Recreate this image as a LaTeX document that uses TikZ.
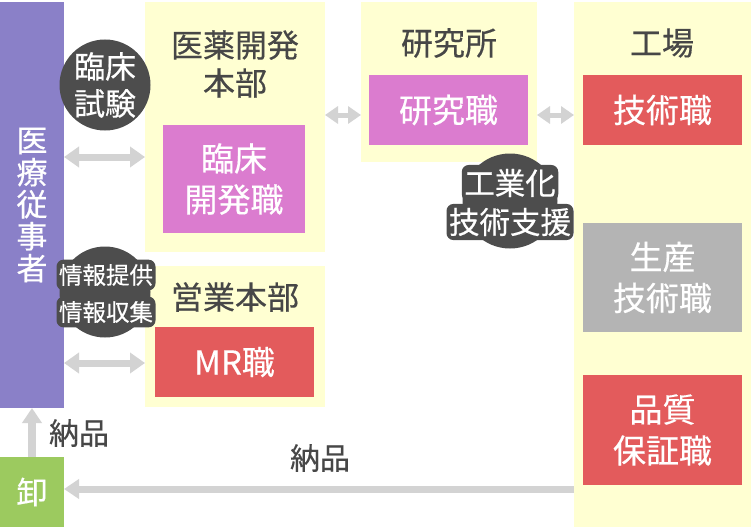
\documentclass[tikz,border=0pt]{standalone}
\usepackage{fontspec}
\setmainfont{Noto Sans CJK JP}[FakeBold=0.4]
\usetikzlibrary{arrows.meta}
\definecolor{panelY}{HTML}{FFFFD2}
\definecolor{iryoP}{HTML}{8A80C8}
\definecolor{oroshiG}{HTML}{9CCA5F}
\definecolor{jobPink}{HTML}{DB7CCF}
\definecolor{jobRed}{HTML}{E35B5C}
\definecolor{jobGray}{HTML}{B4B4B4}
\definecolor{bubbleD}{HTML}{4D4D4D}
\definecolor{arrowG}{HTML}{D3D3D3}
\definecolor{darkText}{HTML}{474747}

\begin{document}
\begin{tikzpicture}[x=1pt,y=-1pt,
    panel/.style={fill=panelY,inner sep=0pt,outer sep=0pt,anchor=north west},
    job/.style={text=white,inner sep=0pt,outer sep=0pt,anchor=north west,align=center,
        font=\fontsize{33}{41}\selectfont},
    title/.style={text=darkText,align=center,inner sep=0pt,font=\fontsize{32}{38}\selectfont},
    lbl/.style={text=darkText,inner sep=0pt,font=\fontsize{30}{32}\selectfont},
    bubble/.style={circle,fill=bubbleD,minimum size=91pt,inner sep=0pt},
    bubline/.style={text=white,fill=bubbleD,rounded corners=7pt,inner sep=2.5pt},
    flow/.style={draw=arrowG,line width=7pt,-{Triangle[width=20pt,length=15pt]}},
    both/.style={draw=arrowG,line width=7pt,
        {Triangle[width=20pt,length=15pt]}-{Triangle[width=20pt,length=15pt]}},
    link/.style={draw=arrowG,line width=5pt,
        {Triangle[width=17pt,length=13pt]}-{Triangle[width=17pt,length=13pt]}}]

    \useasboundingbox (0,0) rectangle (751,527);

    % side bars
    \node[panel,fill=iryoP,minimum width=64pt,minimum height=406pt] (iryo) at (0,2) {};
    \node[text=white,align=center,inner sep=0pt,font=\fontsize{31}{32}\selectfont]
        (iryoT) at (32,205) {医\\療\\従\\事\\者};
    \node[panel,fill=oroshiG,minimum width=64pt,minimum height=70pt] (oroshi) at (0,457) {};
    \node[text=white,inner sep=0pt,font=\fontsize{31}{32}\selectfont] (oroshiT) at (oroshi) {卸};

    % panels
    \node[panel,minimum width=180pt,minimum height=250pt] (honbu) at (145,2) {};
    \node[panel,minimum width=180pt,minimum height=141pt] (eigyo) at (145,266) {};
    \node[panel,minimum width=176pt,minimum height=160pt] (kenkyu) at (361,2) {};
    \node[panel,minimum width=177pt,minimum height=525pt] (kojo) at (574,2) {};

    \node[title] (honbuT) at (235,64) {医薬開発\\本部};
    \node[title] (eigyoT) at (235,297) {営業本部};
    \node[title] (kenkyuT) at (449,43) {研究所};
    \node[title] (kojoT) at (662,43) {工場};

    % jobs
    \node[job,fill=jobPink,minimum width=142pt,minimum height=108pt] (rinsho) at (163,125) {臨床\\開発職};
    \node[job,fill=jobRed,minimum width=159pt,minimum height=70pt] (mr) at (155,327) {MR職};
    \node[job,fill=jobPink,minimum width=159pt,minimum height=70pt] (kenkyuS) at (369,75) {研究職};
    \node[job,fill=jobRed,minimum width=159pt,minimum height=70pt] (gijutsu) at (583,75) {技術職};
    \node[job,fill=jobGray,minimum width=159pt,minimum height=109pt] (seisan) at (583,223) {生産\\技術職};
    \node[job,fill=jobRed,minimum width=159pt,minimum height=110pt] (hinshitsu) at (583,375) {品質\\保証職};

    % arrows
    \draw[both] (iryo.east |- 0,157) -- (honbu.west |- 0,157);
    \draw[both] (iryo.east |- 0,363) -- (eigyo.west |- 0,363);
    \draw[link] (honbu.east |- 0,115) -- (kenkyu.west |- 0,115);
    \draw[link] (kenkyu.east |- 0,115) -- (kojo.west |- 0,115);
    \draw[flow,line width=8pt,-{Triangle[width=19pt,length=15pt]}] (oroshi.north) -- (iryo.south);
    \draw[flow,-{Triangle[width=19pt,length=15pt]}] (kojo.west |- 0,489) -- (oroshi.east |- 0,489);
    \node[lbl] (nohinA) at (79,433) {納品};
    \node[lbl] (nohinB) at (320,458) {納品};

    % bubbles
    \node[bubble] (chiken) at (105,85) {};
    \node[text=white,align=center,inner sep=0pt,font=\fontsize{31}{37}\selectfont]
        (chikenT) at (chiken) {臨床\\試験};
    \node[bubble] (joho) at (105,292) {};
    \node[bubline,inner ysep=4.5pt,font=\fontsize{23.5}{26}\selectfont] (johoA) at (106,275) {情報提供};
    \node[bubline,inner ysep=4.5pt,font=\fontsize{23.5}{26}\selectfont] (johoB) at (106,312) {情報収集};
    \node[bubble,minimum size=95pt] (kogyo) at (510,201) {};
    \node[bubline,inner ysep=4pt,font=\fontsize{30.5}{32}\selectfont] (kogyoA) at (510,183) {工業化};
    \node[bubline,inner ysep=4pt,font=\fontsize{30.5}{32}\selectfont] (kogyoB) at (510,222) {技術支援};

\end{tikzpicture}
\end{document}
